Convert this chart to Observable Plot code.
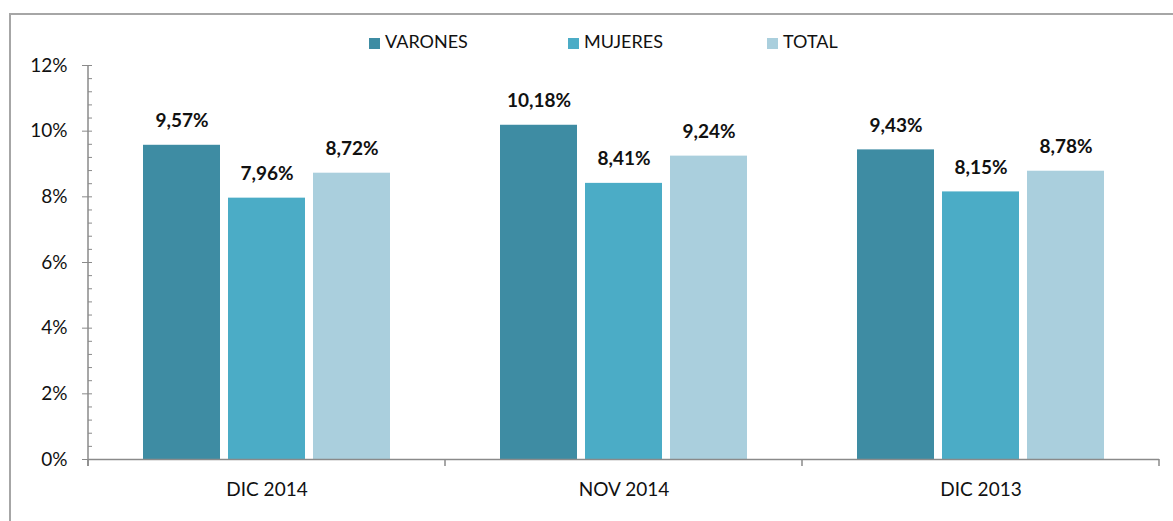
<!DOCTYPE html>
<html><head><meta charset="utf-8">
<script src="https://cdn.jsdelivr.net/npm/d3@7"></script>
<script src="https://cdn.jsdelivr.net/npm/@observablehq/plot@0.6"></script>
<style>
body{margin:0;overflow:hidden;background:#fff;font-family:Lato,sans-serif;}
#wrap{position:relative;width:1173px;height:521px;overflow:hidden;}
#box{position:absolute;left:9px;top:13px;width:1300px;height:600px;border:2px solid #a6a6a6;}
#chart{position:absolute;left:0;top:0;}
#legend{position:absolute;left:369px;top:31px;font-size:18px;color:#111;white-space:nowrap;line-height:20px;}
.item{display:inline-block;width:199px;}
.sw{display:inline-block;width:11px;height:11px;margin-right:5px;vertical-align:-1px;}
</style></head>
<body>
<div id="wrap"><div id="box"></div><div id="chart"></div><div id="legend"></div></div>
<script>
const categories = ["DIC 2014", "NOV 2014", "DIC 2013"];
const seriesNames = ["VARONES", "MUJERES", "TOTAL"];
const varones = [9.57, 10.18, 9.43];
const mujeres = [7.96, 8.41, 8.15];
const total = [8.72, 9.24, 8.78];
const colors = ["#3e8ca3", "#4bacc6", "#aacfdd"];
const yTicks = [0, 2, 4, 6, 8, 10, 12];
const yMinorTicks = d3.range(0, 31).map(i => +(i * 0.4).toFixed(1));

const seriesValues = [varones, mujeres, total];
const data = categories.flatMap((c, i) => seriesNames.map((s, j) => ({cat: c, serie: s, value: seriesValues[j][i]})));
const fmt = v => v.toFixed(2).replace(".", ",") + "%";

const plot = Plot.plot({
  width: 1173, height: 521,
  marginLeft: 87, marginRight: 13, marginTop: 65, marginBottom: 62,
  style: {fontFamily: "Lato, sans-serif", fontSize: "19px", background: "none", color: "#111"},
  fx: {domain: categories, paddingInner: 0, paddingOuter: 0, label: null},
  x: {domain: seriesNames, paddingInner: 0.1, paddingOuter: 0.64, axis: null},
  y: {domain: [0, 12], label: null},
  color: {domain: seriesNames, range: colors},
  marks: [
    Plot.barY(data, {fx: "cat", x: "serie", y: "value", fill: "serie"}),
    Plot.ruleY([0], {stroke: "#8a8a8a", strokeWidth: 1.5}),
    Plot.text(data, {fx: "cat", x: "serie", y: "value", text: d => fmt(d.value), dy: -24, fontWeight: "bold", fill: "#111"}),
    Plot.axisY({ticks: yTicks, tickSize: 6, tickPadding: 15, tickFormat: d => d + "%", stroke: "#8a8a8a", fill: "#111", label: null}),
    Plot.axisY({ticks: yMinorTicks, tickSize: -4, tickFormat: () => "", stroke: "#8a8a8a", label: null}),
    Plot.axisFx({anchor: "bottom", tickSize: 0, tickPadding: 23, fill: "#111", label: null})
  ]
});
document.getElementById("chart").appendChild(plot);

const fx = plot.scale("fx"), y = plot.scale("y");
const y0 = y.apply(0), yTop = y.apply(12);
const bounds = [...categories.map(c => fx.apply(c)), fx.apply(categories[categories.length - 1]) + fx.bandwidth];
const g = d3.select(plot).append("g").attr("stroke", "#8a8a8a").attr("stroke-width", 1.5);
bounds.forEach(x => g.append("line").attr("x1", x).attr("x2", x).attr("y1", y0).attr("y2", y0 + 7));
g.append("line").attr("x1", bounds[0]).attr("x2", bounds[0]).attr("y1", yTop).attr("y2", y0 + 7);

const legend = d3.select("#legend");
seriesNames.forEach((s, i) => {
  const it = legend.append("span").attr("class", "item");
  it.append("span").attr("class", "sw").style("background", colors[i]);
  it.append("span").text(s);
});
</script>
</body></html>
